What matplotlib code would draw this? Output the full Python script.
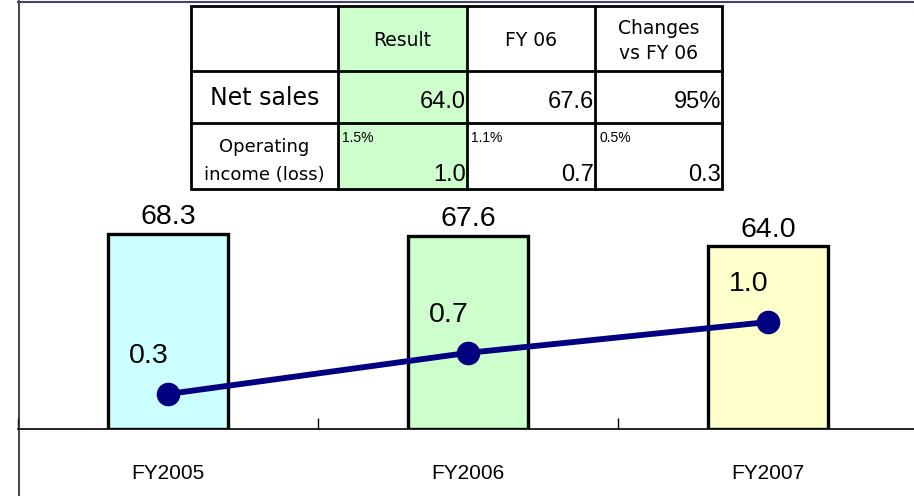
import matplotlib.pyplot as plt
from matplotlib.lines import Line2D
from matplotlib.patches import Rectangle

# Data
years = ["FY2005", "FY2006", "FY2007"]
net_sales = [68.3, 67.6, 64.0]
op_income = [0.3, 0.7, 1.0]
bar_colors = ["#CCFFFF", "#CCFFCC", "#FFFFCC"]

# Summary table
tab_header = ["", "Result", "FY 06", "Changes\nvs FY 06"]
tab_sales = ["64.0", "67.6", "95%"]
tab_income = ["1.0", "0.7", "0.3"]
tab_margin = ["1.5%", "1.1%", "0.5%"]

W, H = 914, 496
fig = plt.figure(figsize=(W / 100, H / 100), dpi=100)

# Main axes: bars (net sales)
ax = fig.add_axes([18 / W, (H - 429) / H, 900 / W, 428 / H])
x = list(range(len(years)))
ax.bar(x, net_sales, width=0.4, color=bar_colors, edgecolor="black", linewidth=2.4, zorder=2)
ax.set_xlim(-0.5, 2.5)
ax.set_ylim(0, 149.9)
for s in ["top", "right", "left"]:
    ax.spines[s].set_visible(False)
ax.spines["bottom"].set_linewidth(1.2)
ax.set_yticks([])
ax.set_xticks([-0.5, 0.5, 1.5, 2.5])
ax.set_xticklabels([])
ax.tick_params(axis="x", direction="in", length=8, width=1, color="black")
for i, v in enumerate(net_sales):
    ax.annotate(f"{v:.1f}", (i, v), xytext=(0, 7), textcoords="offset points",
                ha="center", va="baseline", fontsize=20.5, family="Liberation Sans")
for i, lab in enumerate(years):
    ax.text(i, -0.103, lab, transform=ax.get_xaxis_transform(), ha="center", va="center",
            fontsize=15, family="Liberation Sans")

# Secondary axes: operating income line
ax2 = ax.twinx()
ax2.set_ylim(-0.04, 4.12)
for s in ax2.spines.values():
    s.set_visible(False)
ax2.set_yticks([])
ax2.plot(x, op_income, color="#000080", lw=4.2, marker="o", ms=16, zorder=3)
for i, v in enumerate(op_income):
    ax2.annotate(f"{v:.1f}", (i, v), xytext=(-14, 22), textcoords="offset points",
                 ha="center", va="baseline", fontsize=20.5, family="Liberation Sans")

# Frame lines
fig.add_artist(Line2D([19 / W, 19 / W], [0, 1 - 1 / H], color="#222222", lw=1.2))
fig.add_artist(Line2D([18 / W, 1], [1 - 1.5 / H, 1 - 1.5 / H], color="#444466", lw=1.5))

# Table drawn in pixel coordinates
tx = fig.add_axes([0, 0, 1, 1], zorder=5)
tx.set_xlim(0, W)
tx.set_ylim(H, 0)
tx.axis("off")
xs = [191, 338, 467, 595, 722]
ys = [6, 71, 123, 189]
tx.add_patch(Rectangle((xs[1], ys[0]), xs[2] - xs[1], ys[3] - ys[0], facecolor="#CCFFCC", edgecolor="none"))
tx.add_patch(Rectangle((xs[0], ys[0]), xs[4] - xs[0], ys[3] - ys[0], facecolor="none", edgecolor="black", lw=2))
for xv in xs[1:-1]:
    tx.plot([xv, xv], [ys[0], ys[3]], color="black", lw=2)
for yv in ys[1:-1]:
    tx.plot([xs[0], xs[4]], [yv, yv], color="black", lw=2)

for j, t in enumerate(tab_header[1:]):
    cx = (xs[j + 1] + xs[j + 2]) / 2
    tx.text(cx, 41, t, ha="center", va="center", fontsize=13.5, family="DejaVu Sans",
            linespacing=1.4)
tx.text((xs[0] + xs[1]) / 2, 98, "Net sales", ha="center", va="center", fontsize=17,
        family="DejaVu Sans")
tx.text((xs[0] + xs[1]) / 2, 147, "Operating", ha="center", va="center", fontsize=13,
        family="DejaVu Sans")
tx.text((xs[0] + xs[1]) / 2, 175, "income (loss)", ha="center", va="center", fontsize=13,
        family="DejaVu Sans")
for j in range(3):
    tx.text(xs[j + 2] - 1, 108, tab_sales[j], ha="right", va="baseline", fontsize=17,
            family="Liberation Sans")
    tx.text(xs[j + 2] - 1, 181, tab_income[j], ha="right", va="baseline", fontsize=17,
            family="Liberation Sans")
    tx.text(xs[j + 1] + 4, 142, tab_margin[j], ha="left", va="baseline", fontsize=10,
            family="Liberation Sans")

fig.savefig("out.png", dpi=100)
